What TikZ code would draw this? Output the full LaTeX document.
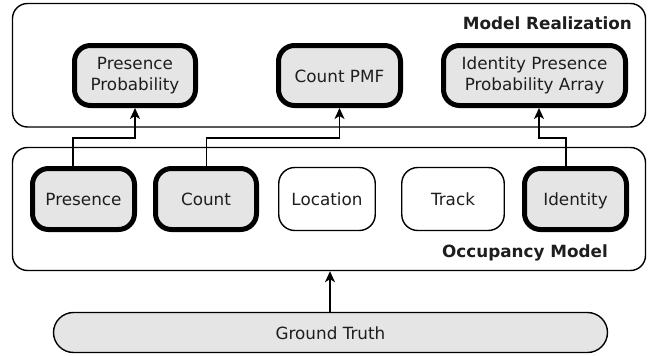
\documentclass[tikz,border=0pt]{standalone}
\usepackage{fontspec}
\setmainfont{DejaVu Sans}
\usetikzlibrary{arrows.meta,calc}
\definecolor{boxgray}{HTML}{E5E5E5}
\definecolor{ink}{HTML}{1E1E1E}
\tikzset{
  container/.style={draw=black, line width=1.4pt, rounded corners=15pt, fill=white, inner sep=0pt},
  thickbox/.style={draw=black, line width=5pt, rounded corners=16pt, fill=boxgray, inner sep=0pt, align=center, text=ink, font=\fontsize{16.8}{20.5}\selectfont},
  thinbox/.style={draw=black, line width=1.4pt, rounded corners=16pt, fill=white, inner sep=0pt, align=center, text=ink, font=\fontsize{16.8}{20.5}\selectfont},
  oneline/.style={text height=13.4pt, text depth=0pt},
  title/.style={inner sep=0pt, text=ink, font=\fontsize{16.8}{20}\selectfont\bfseries},
  conn/.style={draw=black, line width=1.6pt, -{Stealth[length=11pt,width=10pt,inset=3pt]}}
}
\begin{document}
\begin{tikzpicture}[x=1pt,y=-1pt]
\useasboundingbox (0,0) rectangle (649,356);
% containers
\node[container, minimum width=633pt, minimum height=123.5pt] (mr) at (329,65.25) {};
\node[container, minimum width=633pt, minimum height=123pt] (om) at (329,209) {};
\node[title, anchor=base east] (mrt) at (632,30) {Model Realization};
\node[title, anchor=base east] (omt) at (608,257) {Occupancy Model};
% top row
\node[thickbox, minimum width=121pt, minimum height=60pt] (pp) at (135,75.5) {Presence\\Probability};
\node[thickbox, oneline, minimum width=122pt, minimum height=60pt] (cpmf) at (339.5,75.5) {Count PMF};
\node[thickbox, minimum width=182pt, minimum height=60pt] (ippa) at (534.5,75.5) {Identity Presence\\Probability Array};
% bottom row
\node[thickbox, oneline, minimum width=102pt, minimum height=61pt] (pres) at (83.5,199) {Presence};
\node[thickbox, oneline, minimum width=101pt, minimum height=61pt] (cnt) at (206,199) {Count};
\node[thinbox, oneline, minimum width=96.5pt, minimum height=63pt] (loc) at (327,199) {Location};
\node[thinbox, oneline, minimum width=102.5pt, minimum height=63pt] (trk) at (453,199) {Track};
\node[thickbox, oneline, minimum width=102pt, minimum height=61pt] (idn) at (575.5,199) {Identity};
% ground truth
\node[thinbox, oneline, fill=boxgray, rounded corners=20pt, minimum width=554pt, minimum height=40pt] (gt) at (330.5,332.5) {Ground Truth};
% connectors
\coordinate (j1) at (73,138);
\coordinate (j2) at (206.5,137.7);
\coordinate (j3a) at (566,137.7);
\coordinate (j3b) at (539,137.7);
\draw[conn] (pres.north -| j1) -- (j1) -| (pp.south);
\draw[conn] (cnt.north -| j2) -- (j2) -| (cpmf.south);
\draw[conn] (idn.north -| j3a) -- (j3a) -- (j3b) -- (j3b |- ippa.south);
\draw[conn] (gt.north -| 330,0) -- (om.south -| 330,0);
\end{tikzpicture}
\end{document}
